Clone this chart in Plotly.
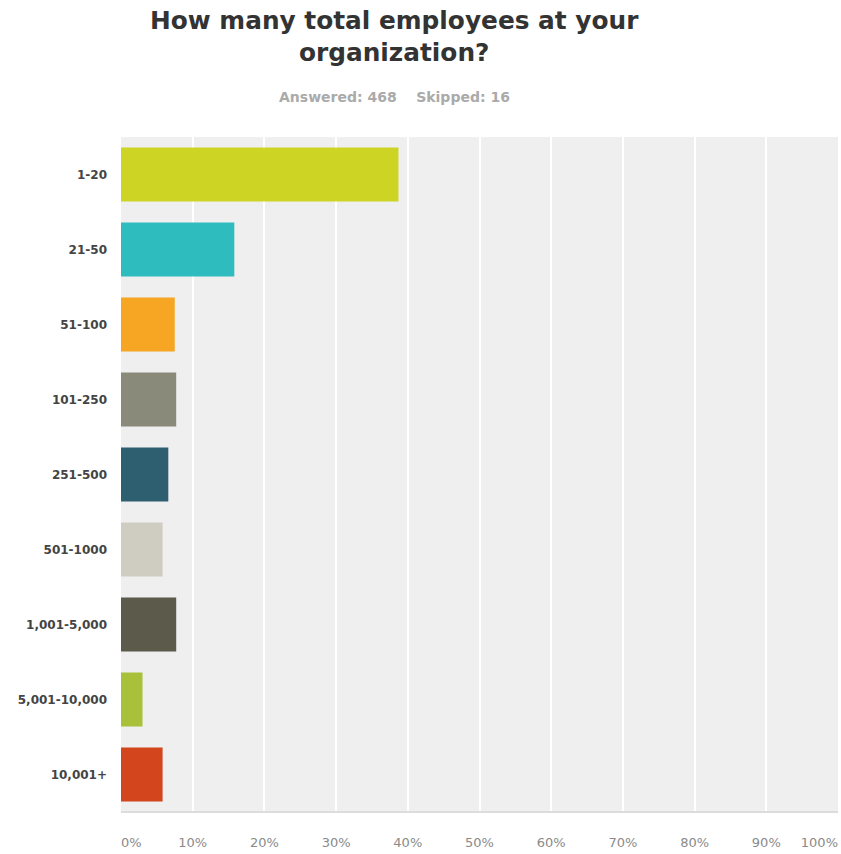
import plotly.graph_objects as go

# Survey answer categories and share of respondents (%)
categories = ["1-20", "21-50", "51-100", "101-250", "251-500",
              "501-1000", "1,001-5,000", "5,001-10,000", "10,001+"]
percent = [38.7, 15.8, 7.5, 7.7, 6.6, 5.8, 7.7, 3.0, 5.8]
bar_colors = ["#cdd424", "#2fbcbf", "#f6a623", "#8a8a7b", "#2d5f70",
              "#cfcdc1", "#5b5a4b", "#a8c03a", "#d2451d"]
tick_values = [0, 10, 20, 30, 40, 50, 60, 70, 80, 90, 100]
tick_text = ["0%", "10%", "20%", "30%", "40%", "50%",
             "60%", "70%", "80%", "90%", "100%"]

FONT = "DejaVu Sans, Verdana, sans-serif"
X_RANGE = [0, 100]

fig = go.Figure(
    go.Bar(
        x=percent,
        y=categories,
        orientation="h",
        marker=dict(color=bar_colors, line=dict(width=0)),
        hoverinfo="x+y",
    )
)

tick_font = dict(size=13, color="#8a8a8a", family=FONT)
common_x = dict(
    range=X_RANGE,
    zeroline=False,
    showline=False,
    ticks="",
    ticklen=0,
    ticklabelstandoff=21,
    automargin=False,
    tickfont=tick_font,
    fixedrange=True,
)

fig.update_layout(
    width=841,
    height=854,
    margin=dict(l=121, r=3, t=137, b=42),
    paper_bgcolor="white",
    plot_bgcolor="#efefef",
    bargap=0.28,
    showlegend=False,
    font=dict(family=FONT),
    # inner ticks, centred under the grid lines
    xaxis=dict(
        **common_x,
        tickvals=tick_values[1:-1],
        ticktext=tick_text[1:-1],
        showgrid=True,
        gridcolor="#ffffff",
        gridwidth=2,
    ),
    # 0% label kept inside the left edge
    xaxis2=dict(
        **common_x,
        overlaying="x",
        side="bottom",
        tickvals=tick_values[:1],
        ticktext=tick_text[:1],
        ticklabelposition="outside right",
        showgrid=False,
    ),
    # 100% label kept inside the right edge
    xaxis3=dict(
        **common_x,
        overlaying="x",
        side="bottom",
        tickvals=tick_values[-1:],
        ticktext=tick_text[-1:],
        ticklabelposition="outside left",
        showgrid=False,
    ),
    yaxis=dict(
        autorange="reversed",
        showgrid=False,
        zeroline=False,
        showline=False,
        ticks="",
        ticklabelstandoff=13,
        automargin=False,
        tickfont=dict(size=12, color="#444444", family=FONT, weight="bold"),
        fixedrange=True,
    ),
)

# invisible carriers so the overlaid edge axes get drawn
for ax in ("x2", "x3"):
    fig.add_trace(go.Scatter(x=X_RANGE, y=[categories[0], categories[0]],
                             xaxis=ax, yaxis="y", mode="none",
                             hoverinfo="skip", showlegend=False))

# bottom shadow edge of the plot panel
fig.add_shape(type="line", xref="paper", yref="paper", x0=0, x1=1, y0=0, y1=0,
              line=dict(color="#dcdcdc", width=2))

# heading and response counts
fig.add_annotation(
    text="<b>How many total employees at your<br>organization?</b>",
    xref="paper", yref="paper", x=(394 - 121) / 717, y=1 + (137 - 36) / 675,
    xanchor="center", yanchor="middle", showarrow=False, align="center",
    font=dict(size=24.8, color="#333333", family=FONT),
)
fig.add_annotation(
    text="<b>Answered: 468\u00a0\u00a0\u00a0\u00a0Skipped: 16</b>",
    xref="paper", yref="paper", x=(394 - 121) / 717, y=1 + (137 - 97) / 675,
    xanchor="center", yanchor="middle", showarrow=False,
    font=dict(size=14, color="#aaaaaa", family=FONT),
)

fig.write_html("out.html")
